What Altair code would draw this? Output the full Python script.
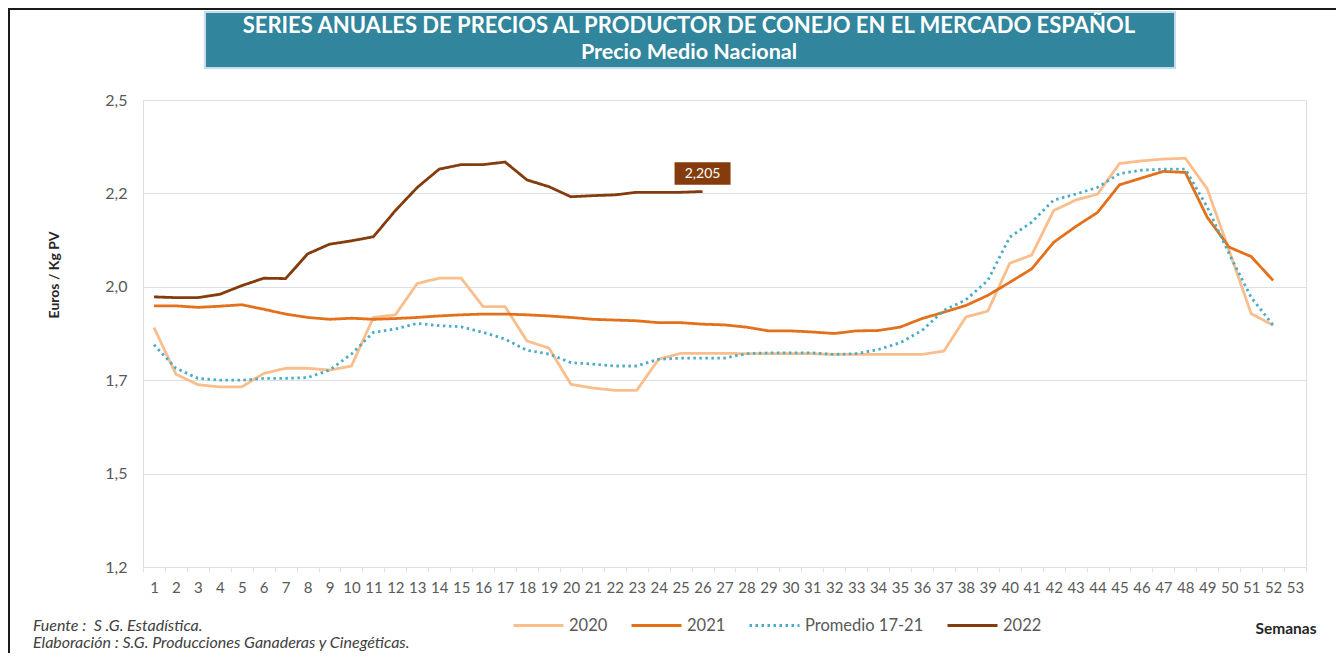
import altair as alt
import pandas as pd

weeks = list(range(1, 54))
series_names = ["2020", "2021", "Promedio 17-21", "2022"]
series_colors = ["#f9be8c", "#e3711c", "#4bacc6", "#843c0c"]

v2020 = [1.841, 1.716, 1.688, 1.682, 1.682, 1.718, 1.732, 1.732, 1.727, 1.738,
         1.868, 1.875, 1.959, 1.973, 1.973, 1.897, 1.897, 1.805, 1.786, 1.689,
         1.679, 1.673, 1.673, 1.756, 1.772, 1.772, 1.772, 1.771, 1.771, 1.771,
         1.771, 1.769, 1.769, 1.769, 1.769, 1.769, 1.778, 1.869, 1.885, 2.013,
         2.035, 2.154, 2.182, 2.198, 2.280, 2.287, 2.292, 2.294, 2.212, 2.047,
         1.878, 1.847]
v2021 = [1.899, 1.899, 1.895, 1.898, 1.902, 1.890, 1.877, 1.868, 1.863, 1.866,
         1.863, 1.865, 1.868, 1.872, 1.875, 1.877, 1.877, 1.875, 1.872, 1.868,
         1.863, 1.861, 1.859, 1.854, 1.854, 1.850, 1.848, 1.842, 1.832, 1.832,
         1.829, 1.825, 1.832, 1.833, 1.842, 1.865, 1.882, 1.900, 1.927, 1.962,
         1.998, 2.069, 2.111, 2.149, 2.223, 2.241, 2.259, 2.256, 2.136, 2.056,
         2.031, 1.967]
vprom = [1.795, 1.732, 1.705, 1.700, 1.700, 1.705, 1.705, 1.707, 1.727, 1.770,
         1.828, 1.837, 1.852, 1.846, 1.843, 1.828, 1.810, 1.780, 1.770, 1.747,
         1.743, 1.738, 1.738, 1.756, 1.759, 1.759, 1.759, 1.771, 1.773, 1.773,
         1.773, 1.769, 1.771, 1.782, 1.800, 1.833, 1.887, 1.915, 1.967, 2.083,
         2.123, 2.182, 2.198, 2.216, 2.253, 2.262, 2.265, 2.265, 2.163, 2.038,
         1.922, 1.847]
v2022 = [1.923, 1.921, 1.921, 1.930, 1.953, 1.973, 1.972, 2.038, 2.064, 2.073,
         2.084, 2.154, 2.216, 2.265, 2.277, 2.277, 2.284, 2.236, 2.218, 2.191,
         2.194, 2.196, 2.203, 2.203, 2.203, 2.205]

y_ticks = [1.2, 1.45, 1.7, 1.95, 2.2, 2.45]
y_tick_labels = ["1,2", "1,5", "1,7", "2,0", "2,2", "2,5"]
last_label = "2,205"

title_line1 = "SERIES ANUALES DE PRECIOS AL PRODUCTOR DE CONEJO EN EL MERCADO ESPAÑOL"
title_line2 = "Precio Medio Nacional"
y_title = "Euros / Kg PV"
x_title = "Semanas"
note1 = "Fuente :\u00a0 S .G. Estadística."
note2 = "Elaboración : S.G. Producciones Ganaderas y Cinegéticas."

rows = []
for name, vals in zip(series_names, [v2020, v2021, vprom, v2022]):
    for w, v in zip(weeks, vals):
        rows.append({"semana": w, "serie": name, "valor": v})
df = pd.DataFrame(rows)

FONT = "Lato"
GRID = "#dbe0ea"
LABEL = "#595959"

label_expr = "[{}][indexof([{}], round(datum.value*100))]".format(
    ",".join("'%s'" % s for s in y_tick_labels),
    ",".join(str(int(round(t * 100))) for t in y_ticks),
)

x_scale = alt.Scale(type="band", domain=weeks, paddingInner=0, paddingOuter=0)
y_scale = alt.Scale(domain=[y_ticks[0], y_ticks[-1]], nice=False, zero=False)

x_axis = alt.Axis(title=None, labelAngle=0, labelFont=FONT, labelFontSize=15,
                  labelColor=LABEL, labelOverlap=False, labelPadding=8,
                  tickBand="extent", tickSize=5, tickColor=GRID,
                  domainColor=GRID, grid=False, labelFlush=False)
y_axis = alt.Axis(title=None, values=y_ticks, labelExpr=label_expr,
                  labelFont=FONT, labelFontSize=16, labelColor=LABEL,
                  labelPadding=16, ticks=False, domain=False,
                  grid=True, gridColor=GRID, gridWidth=1.2)

legend = alt.Legend(orient="none", legendX=369, legendY=499, direction="horizontal",
                    columns=4, title=None, symbolType="stroke", symbolSize=2500,
                    symbolStrokeWidth=3, labelFont=FONT, labelFontSize=16.5,
                    labelColor=LABEL, labelOffset=4, columnPadding=17)

lines = alt.Chart(df).mark_line(strokeWidth=2.8).encode(
    x=alt.X("semana:O", scale=x_scale, axis=x_axis),
    y=alt.Y("valor:Q", scale=y_scale, axis=y_axis),
    color=alt.Color("serie:N", scale=alt.Scale(domain=series_names, range=series_colors),
                    legend=legend, sort=series_names),
    strokeDash=alt.StrokeDash("serie:N",
                              scale=alt.Scale(domain=series_names,
                                              range=[[1, 0], [1, 0], [2.5, 3.5], [1, 0]]),
                              legend=legend, sort=series_names),
    order=alt.Order("semana:O"),
)

df_last = pd.DataFrame({"semana": [weeks[len(v2022) - 1]], "valor": [v2022[-1]], "texto": [last_label]})
box = alt.Chart(df_last).mark_point(
    shape="M-1,-0.4L1,-0.4L1,0.4L-1,0.4Z", size=3136, filled=True,
    color="#843c0c", opacity=1, yOffset=-18
).encode(x=alt.X("semana:O", scale=x_scale), y=alt.Y("valor:Q", scale=y_scale))
box_text = alt.Chart(df_last).mark_text(
    font=FONT, fontSize=14, color="white", yOffset=-18, baseline="middle"
).encode(x=alt.X("semana:O", scale=x_scale), y=alt.Y("valor:Q", scale=y_scale), text="texto:N")

one = pd.DataFrame({"a": [0]})
title_box = alt.Chart(one).mark_rect(color="#31859c", stroke="#c5dced", strokeWidth=2).encode(
    x=alt.value(62), x2=alt.value(1032), y=alt.value(-88), y2=alt.value(-32))
t1 = alt.Chart(pd.DataFrame({"t": [title_line1]})).mark_text(
    font=FONT, fontSize=22, fontWeight="bold", color="white", align="center", baseline="middle"
).encode(x=alt.value(546), y=alt.value(-74), text="t:N")
t2 = alt.Chart(pd.DataFrame({"t": [title_line2]})).mark_text(
    font=FONT, fontSize=21.5, fontWeight="bold", color="white", align="center", baseline="middle"
).encode(x=alt.value(546), y=alt.value(-47), text="t:N")

ytitle = alt.Chart(pd.DataFrame({"t": [y_title]})).mark_text(
    font=FONT, fontSize=14, fontWeight="bold", color="#262626", angle=270,
    align="center", baseline="middle"
).encode(x=alt.value(-88), y=alt.value(175), text="t:N")
xtitle = alt.Chart(pd.DataFrame({"t": [x_title]})).mark_text(
    font=FONT, fontSize=15.5, fontWeight="bold", color="#262626", align="center", baseline="middle"
).encode(x=alt.value(1143), y=alt.value(529), text="t:N")
n1 = alt.Chart(pd.DataFrame({"t": [note1]})).mark_text(
    font=FONT, fontSize=16, fontStyle="italic", color="#404040", align="left", baseline="middle"
).encode(x=alt.value(-110), y=alt.value(526), text="t:N")
n2 = alt.Chart(pd.DataFrame({"t": [note2]})).mark_text(
    font=FONT, fontSize=16, fontStyle="italic", color="#404040", align="left", baseline="middle"
).encode(x=alt.value(-110), y=alt.value(543), text="t:N")

frame_left = alt.Chart(one).mark_rule(color="#1a1a1a", strokeWidth=2).encode(
    x=alt.value(-134), y=alt.value(-92), y2=alt.value(553))
frame_top = alt.Chart(one).mark_rule(color="#1a1a1a", strokeWidth=2).encode(
    x=alt.value(-135), x2=alt.value(1193), y=alt.value(-91))

chart = alt.layer(
    title_box, t1, t2, lines, box, box_text, ytitle, xtitle, n1, n2, frame_left, frame_top
).properties(
    width=1163, height=467,
    autosize=alt.AutoSizeParams(type="none"),
    padding={"left": 135, "top": 92, "right": 30, "bottom": 86},
).configure_view(stroke=None).configure(background="white")

chart.save("out.html", embed_options={"renderer": "svg", "actions": False})
